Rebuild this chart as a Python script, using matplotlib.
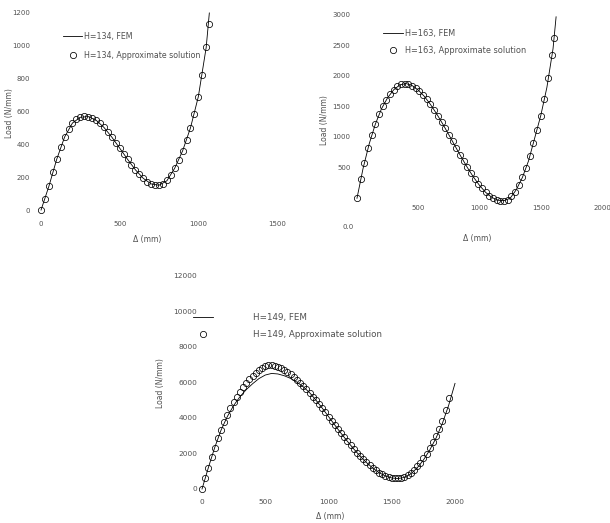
import matplotlib
matplotlib.use("Agg")
import matplotlib.pyplot as plt

W, H = 610, 523

# ---------------- data: H = 134 ----------------
d134_fem = [0, 50, 100, 150, 200, 250, 300, 350, 400, 450, 500, 550, 600, 650, 700,
            750, 800, 850, 900, 950, 1000, 1050, 1070]
p134_fem = [0, 145, 310, 445, 530, 565, 569, 547, 503, 444, 377, 309, 245, 193, 159,
            151, 178, 255, 360, 500, 690, 990, 1200]
d134_app = [0, 25, 50, 75, 100, 125, 150, 175, 200, 225, 250, 275, 300, 325, 350, 375,
            400, 425, 450, 475, 500, 525, 550, 575, 600, 625, 650, 675, 700, 725, 750,
            775, 800, 825, 850, 875, 900, 925, 950, 975, 1000, 1025, 1050, 1065]
p134_app = [0, 70, 145, 230, 310, 385, 445, 493, 530, 553, 565, 570, 569, 561, 547, 527,
            503, 475, 444, 411, 377, 343, 309, 276, 245, 217, 193, 173, 159, 151, 151,
            160, 180, 212, 255, 305, 360, 425, 500, 585, 690, 820, 990, 1130]

# ---------------- data: H = 163 ----------------
d163_fem = [0, 50, 100, 150, 200, 250, 300, 350, 400, 450, 500, 550, 600, 650, 700,
            750, 800, 850, 900, 950, 1000, 1050, 1100, 1150, 1200, 1250, 1300, 1350,
            1400, 1450, 1500, 1550, 1600, 1625]
p163_fem = [0, 490, 890, 1210, 1460, 1640, 1770, 1850, 1872, 1839, 1765, 1662, 1530,
            1378, 1212, 1035, 854, 676, 505, 348, 210, 97, 15, -32, -38, 0, 140, 340,
            610, 980, 1350, 1810, 2440, 2960]
d163_app = [0, 30, 60, 90, 120, 150, 180, 210, 240, 270, 300, 330, 360, 390, 420, 450,
            480, 510, 540, 570, 600, 630, 660, 690, 720, 750, 780, 810, 840, 870, 900,
            930, 960, 990, 1020, 1050, 1080, 1110, 1140, 1170, 1200, 1230, 1260, 1290,
            1320, 1350, 1380, 1410, 1440, 1470, 1500, 1530, 1560, 1590, 1610]
p163_app = [0, 310, 580, 820, 1030, 1210, 1370, 1500, 1610, 1700, 1770, 1825, 1860,
            1872, 1864, 1839, 1800, 1748, 1685, 1612, 1530, 1441, 1346, 1246, 1142,
            1035, 927, 818, 711, 606, 505, 409, 319, 236, 161, 97, 43, 2, -26, -40,
            -38, -20, 30, 110, 210, 340, 500, 690, 900, 1120, 1350, 1620, 1960, 2340,
            2620]

# ---------------- data: H = 149 ----------------
d149_fem = [0, 50, 100, 150, 200, 250, 300, 350, 400, 450, 500, 550, 600, 650, 700,
            750, 800, 850, 900, 950, 1000, 1050, 1100, 1150, 1200, 1250, 1300, 1350,
            1400, 1450, 1500, 1550, 1600, 1650, 1700, 1750, 1800, 1850, 1900, 1950, 2000]
p149_fem = [0, 1200, 2330, 3310, 4080, 4700, 5200, 5600, 5930, 6220, 6420, 6510, 6480,
            6380, 6230, 6020, 5760, 5430, 5010, 4560, 4080, 3600, 3130, 2680, 2250,
            1850, 1490, 1180, 920, 730, 620, 590, 650, 850, 1180, 1630, 2190, 2870,
            3690, 4720, 5950]
d149_app = [0, 25, 50, 75, 100, 125, 150, 175, 200, 225, 250, 275, 300, 325, 350, 375,
            400, 425, 450, 475, 500, 525, 550, 575, 600, 625, 650, 675, 700, 725, 750,
            775, 800, 825, 850, 875, 900, 925, 950, 975, 1000, 1025, 1050, 1075, 1100,
            1125, 1150, 1175, 1200, 1225, 1250, 1275, 1300, 1325, 1350, 1375, 1400,
            1425, 1450, 1475, 1500, 1525, 1550, 1575, 1600, 1625, 1650, 1675, 1700,
            1725, 1750, 1775, 1800, 1825, 1850, 1875, 1900, 1925, 1950]
p149_app = [0, 600, 1200, 1780, 2330, 2850, 3330, 3770, 4180, 4550, 4890, 5200, 5480,
            5740, 5980, 6190, 6380, 6550, 6700, 6820, 6910, 6970, 6974, 6936, 6878,
            6801, 6705, 6592, 6463, 6319, 6162, 5991, 5810, 5618, 5416, 5207, 4991,
            4768, 4541, 4310, 4076, 3842, 3607, 3374, 3142, 2913, 2689, 2468, 2257,
            2051, 1856, 1670, 1495, 1332, 1183, 1048, 929, 825, 740, 675, 629, 604,
            602, 630, 690, 790, 920, 1080, 1270, 1480, 1720, 1990, 2290, 2620, 2980,
            3380, 3820, 4450, 5150]

labels134 = ["H=134, FEM", "H=134, Approximate solution"]
labels163 = ["H=163, FEM", "H=163, Approximate solution"]
labels149 = ["H=149, FEM", "H=149, Approximate solution"]
xlabel = "Δ (mm)"
ylabel = "Load (N/mm)"

TXT = "#505050"
plt.rcParams["font.family"] = ["DejaVu Sans"]

fig = plt.figure(figsize=(W / 100, H / 100), dpi=100)
fig.patch.set_facecolor("white")


def px_axes(l, t, r, b):
    return fig.add_axes([l / W, 1 - b / H, (r - l) / W, (b - t) / H])


def style(ax, xpad, ypad, fs):
    for s in ax.spines.values():
        s.set_visible(False)
    ax.tick_params(length=0, labelsize=fs, colors=TXT)
    ax.tick_params(axis="x", pad=xpad)
    ax.tick_params(axis="y", pad=ypad)
    ax.set_facecolor("none")


def draw(ax, dF, pF, dA, pA, labs):
    ax.plot(dF, pF, color="black", lw=0.6, label=labs[0], clip_on=False)
    ax.plot(dA, pA, linestyle="none", marker="o", markersize=4.5,
            markerfacecolor="none", markeredgecolor="black", markeredgewidth=0.55,
            label=labs[1], clip_on=False)


def leg(ax, x, y, fs, hl, htp, ls):
    lg = ax.legend(loc="upper left", bbox_to_anchor=(x / W, 1 - y / H),
                   bbox_transform=fig.transFigure, frameon=False, fontsize=fs,
                   borderpad=0, borderaxespad=0, handlelength=hl,
                   handletextpad=htp, labelspacing=ls)
    for t in lg.get_texts():
        t.set_color(TXT)


# ---- top-left: H=134 ----
ax1 = px_axes(31.6, 6.4, 286.4, 216.6)
draw(ax1, d134_fem, p134_fem, d134_app, p134_app, labels134)
ax1.set_xlim(-60, 1560)
ax1.set_ylim(-40, 1240)
ax1.set_xticks([0, 500, 1000, 1500])
ax1.set_yticks([0, 200, 400, 600, 800, 1000, 1200])
style(ax1, 3.5, 1, 5)
leg(ax1, 63, 32, 5.7, 2.4, 0.3, 1.2)
fig.text(147 / W, 1 - 240 / H, xlabel, ha="center", va="center", fontsize=5.5, color=TXT)
fig.text(10 / W, 1 - 113 / H, ylabel, ha="center", va="center", rotation=90,
         fontsize=5.5, color=TXT)

# ---- top-right: H=163 ----
ax2 = px_axes(353.3, 11.3, 609.4, 203.2)
draw(ax2, d163_fem, p163_fem, d163_app, p163_app, labels163)
ax2.set_xlim(-30, 2060)
ax2.set_ylim(-80, 3050)
ax2.set_xticks([500, 1000, 1500, 2000])
ax2.set_yticks([500, 1000, 1500, 2000, 2500, 3000])
style(ax2, 1.5, 2, 5)
leg(ax2, 383, 29, 5.9, 2.4, 0.3, 1.0)
fig.text(348 / W, 1 - 227 / H, "0.0", ha="center", va="center", fontsize=5, color=TXT)
fig.text(477 / W, 1 - 238 / H, xlabel, ha="center", va="center", fontsize=5.5, color=TXT)
fig.text(325 / W, 1 - 120 / H, ylabel, ha="center", va="center", rotation=90,
         fontsize=5.5, color=TXT)

# ---- bottom: H=149 ----
ax3 = px_axes(200, 274.2, 462.6, 496.1)
draw(ax3, d149_fem, p149_fem, d149_app, p149_app, labels149)
ax3.set_xlim(-16, 2060)
ax3.set_ylim(-400, 12100)
ax3.set_xticks([0, 500, 1000, 1500, 2000])
ax3.set_yticks([0, 2000, 4000, 6000, 8000, 10000, 12000])
style(ax3, 2, 2, 5.3)
leg(ax3, 193, 313, 6.3, 2.3, 4.6, 0.9)
fig.text(330 / W, 1 - 517 / H, xlabel, ha="center", va="center", fontsize=5.5, color=TXT)
fig.text(160 / W, 1 - 383 / H, ylabel, ha="center", va="center", rotation=90,
         fontsize=5.5, color=TXT)

fig.savefig("out.png", dpi=100, facecolor="white")
